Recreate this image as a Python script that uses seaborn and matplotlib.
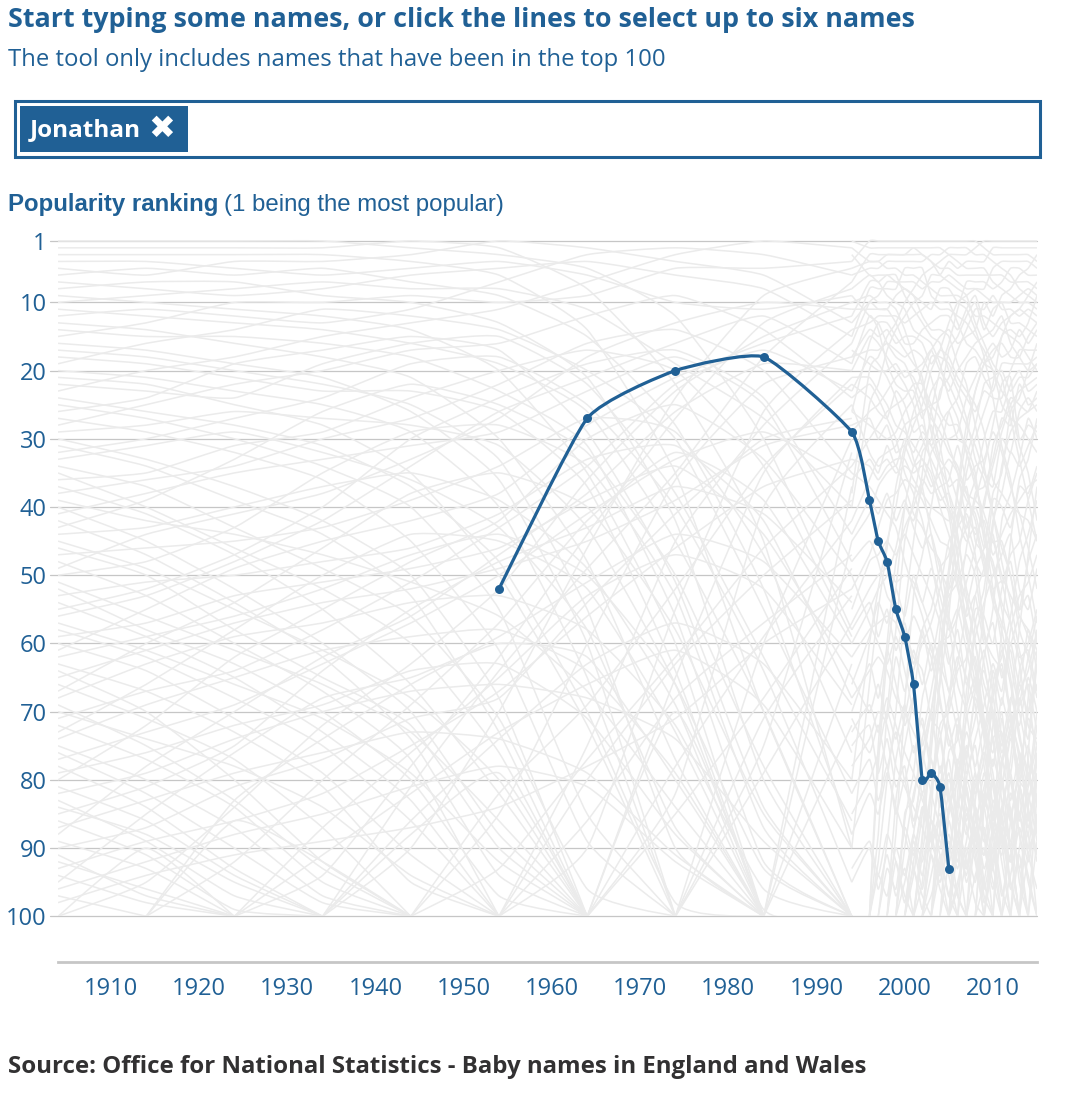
import numpy as np
import pandas as pd
import seaborn as sns
import matplotlib.pyplot as plt
from matplotlib.path import Path
from matplotlib.patches import PathPatch, Rectangle

N = np.nan

# years in the data: every ten years up to 1994, then yearly
decade_years = [1904, 1914, 1924, 1934, 1944, 1954, 1964, 1974, 1984, 1994]
recent_years = [1994, 1996, 1997, 1998, 1999, 2000, 2001, 2002, 2003, 2004,
                2005, 2006, 2007, 2008, 2009, 2010, 2011, 2012, 2013, 2014, 2015]

# the selected name
jonathan_years = [1954, 1964, 1974, 1984, 1994, 1996, 1997, 1998, 1999, 2000,
                  2001, 2002, 2003, 2004, 2005]
jonathan_ranks = [52, 27, 20, 18, 29, 39, 45, 48, 55, 59, 66, 80, 79, 81, 93]

# background names, ranks by decade (estimated)
early_ranks = [
    [1, 1, 1, 1, 2, 3, 5, 12, 30, 58],
    [2, 2, 2, 2, 1, 2, 8, 22, 45, 90],
    [3, 3, 3, 3, 4, 6, 14, 35, 70, 100],
    [4, 4, 5, 6, 5, 4, 6, 10, 11, 9],
    [5, 6, 4, 4, 3, 1, 2, 4, 6, 13],
    [6, 5, 6, 5, 7, 9, 15, 28, 52, 88],
    [7, 8, 9, 8, 6, 5, 4, 6, 8, 15],
    [8, 7, 7, 9, 10, 13, 21, 42, 80, 100],
    [9, 10, 11, 12, 14, 20, 35, 60, 100, N],
    [10, 9, 8, 7, 8, 8, 11, 19, 27, 40],
    [11, 12, 13, 14, 16, 19, 26, 45, 70, 100],
    [12, 11, 12, 13, 11, 7, 3, 2, 3, 6],
    [13, 14, 16, 18, 21, 30, 48, 77, 100, N],
    [14, 15, 15, 16, 18, 23, 31, 56, 92, 100],
    [15, 13, 10, 10, 9, 10, 9, 5, 5, 4],
    [16, 17, 19, 21, 26, 36, 60, 100, N, N],
    [17, 18, 20, 22, 25, 33, 55, 90, 100, N],
    [18, 19, 21, 23, 23, 26, 37, 64, 100, N],
    [19, 16, 14, 11, 12, 14, 20, 30, 55, 82],
    [20, 21, 23, 25, 29, 40, 65, 100, N, N],
    [21, 22, 25, 28, 35, 50, 72, 100, N, N],
    [22, 23, 24, 19, 16, 15, 22, 38, 62, 86],
    [23, 20, 18, 15, 13, 11, 7, 3, 1, 2],
    [24, 26, 28, 31, 37, 48, 70, 98, 100, N],
    [25, 27, 30, 34, 40, 55, 85, 100, N, N],
    [26, 24, 19, 17, 15, 17, 29, 51, 84, 100],
    [27, 29, 32, 36, 45, 61, 89, 100, N, N],
    [28, 25, 22, 20, 17, 16, 12, 9, 14, 24],
    [29, 28, 26, 27, 28, 31, 43, 66, 100, N],
    [30, 33, 37, 42, 50, 68, 100, N, N, N],
    [31, 34, 39, 44, 53, 73, 100, N, N, N],
    [32, 30, 27, 24, 19, 18, 25, 40, 64, 95],
    [33, 31, 29, 32, 36, 43, 58, 87, 100, N],
    [34, 37, 43, 49, 56, 71, 96, 100, N, N],
    [35, 40, 46, 52, 60, 76, 100, N, N, N],
    [36, 35, 31, 29, 24, 20, 17, 20, 34, 59],
    [37, 41, 47, 55, 66, 82, 100, N, N, N],
    [38, 36, 34, 30, 27, 22, 16, 14, 20, 35],
    [39, 42, 44, 47, 51, 56, 67, 84, 100, N],
    [40, 45, 52, 60, 70, 88, 100, N, N, N],
    [41, 38, 35, 33, 31, 29, 23, 18, 25, 48],
    [42, 47, 54, 62, 74, 94, 100, N, N, N],
    [43, 39, 33, 26, 22, 25, 32, 50, 78, 100],
    [44, 43, 40, 37, 35, 39, 49, 69, 99, 100],
    [45, 49, 55, 61, 68, 80, 100, N, N, N],
    [46, 50, 58, 65, 72, 90, 100, N, N, N],
    [47, 46, 45, 43, 39, 34, 27, 29, 47, 76],
    [48, 53, 60, 67, 77, 100, N, N, N, N],
    [49, 44, 41, 38, 33, 27, 18, 13, 10, 11],
    [50, 48, 43, 35, 29, 28, 34, 53, 87, 100],
    [51, 56, 61, 66, 73, 86, 100, N, N, N],
    [52, 58, 63, 70, 80, 97, 100, N, N, N],
    [53, 51, 50, 48, 46, 41, 33, 31, 42, 68],
    [54, 59, 65, 73, 83, 100, N, N, N, N],
    [55, 52, 47, 40, 30, 24, 19, 17, 24, 44],
    [56, 53, 48, 42, 34, 26, 21, 16, 12, 19],
    [57, 61, 66, 71, 79, 92, 100, N, N, N],
    [58, 62, 68, 75, 86, 100, N, N, N, N],
    [59, 57, 53, 51, 49, 46, 39, 34, 44, 65],
    [60, 64, 71, 79, 91, 100, N, N, N, N],
    [61, 55, 49, 45, 42, 38, 28, 21, 16, 12],
    [62, 59, 56, 52, 47, 44, 50, 66, 93, 100],
    [63, 67, 73, 81, 95, 100, N, N, N, N],
    [64, 70, 80, 92, 100, N, N, N, N, N],
    [65, 61, 57, 54, 52, 49, 45, 39, 31, 28],
    [66, 71, 77, 87, 100, N, N, N, N, N],
    [67, 60, 54, 46, 38, 35, 40, 58, 85, 100],
    [68, 63, 59, 57, 54, 53, 58, 72, 96, 100],
    [69, 75, 83, 93, 100, N, N, N, N, N],
    [70, 74, 78, 84, 94, 100, N, N, N, N],
    [71, 67, 64, 58, 51, 43, 34, 22, 17, 23],
    [72, 77, 84, 95, 100, N, N, N, N, N],
    [73, 66, 58, 50, 44, 45, 52, 73, 100, N],
    [74, 69, 65, 61, 59, 58, 64, 79, 100, N],
    [75, 80, 87, 97, 100, N, N, N, N, N],
    [76, 82, 90, 98, 100, N, N, N, N, N],
    [77, 73, 69, 63, 57, 50, 41, 33, 29, 36],
    [78, 84, 93, 100, N, N, N, N, N, N],
    [79, 76, 72, 69, 64, 63, 71, 88, 100, N],
    [80, 72, 62, 55, 48, 42, 30, 25, 33, 50],
    [81, 86, 94, 100, N, N, N, N, N, N],
    [82, 79, 74, 70, 67, 66, 68, 74, 89, 100],
    [83, 89, 97, 100, N, N, N, N, N, N],
    [84, 88, 95, 100, N, N, N, N, N, N],
    [85, 81, 75, 64, 55, 48, 43, 37, 41, 54],
    [86, 91, 99, 100, N, N, N, N, N, N],
    [87, 83, 79, 76, 73, 74, 79, 91, 100, N],
    [88, 78, 70, 62, 56, 47, 38, 26, 19, 20],
    [89, 93, 100, N, N, N, N, N, N, N],
    [90, 87, 81, 77, 71, 68, 54, 41, 30, 27],
    [91, 97, 100, N, N, N, N, N, N, N],
    [92, 96, 100, N, N, N, N, N, N, N],
    [93, 89, 86, 82, 75, 67, 56, 46, 37, 33],
    [94, 98, 100, N, N, N, N, N, N, N],
    [95, 85, 76, 68, 65, 60, 62, 80, 100, N],
    [96, 92, 88, 85, 81, 78, 81, 92, 100, N],
    [97, 100, N, N, N, N, N, N, N, N],
    [98, 94, 91, 89, 87, 84, 78, 71, 60, 52],
    [100, 95, 84, 72, 63, 52, 36, 23, 15, 10],
    [100, 90, 100, N, N, N, N, N, N, N],
    [N, 100, 92, 80, 69, 57, 42, 32, 39, 60],
    [N, 100, 83, 74, 66, 59, 51, 44, 48, 62],
    [N, 100, 86, 92, 100, N, N, N, N, N],
    [N, N, 100, 94, 78, 62, 44, 27, 13, 8],
    [N, N, 100, 87, 76, 65, 53, 47, 52, 69],
    [N, N, 100, 91, 82, 73, 66, 61, 69, 90],
    [N, N, N, 100, 90, 70, 46, 24, 9, 5],
    [N, N, N, 100, 81, 64, 49, 35, 18, 7],
    [N, N, N, 100, 86, 74, 63, 57, 63, 80],
    [N, N, N, 100, 88, 79, 100, N, N, N],
    [N, N, N, N, 100, 85, 60, 36, 22, 18],
    [N, N, N, N, 100, 82, 69, 52, 34, 22],
    [N, N, N, N, 100, 93, 77, 62, 46, 34],
    [N, N, N, N, N, 100, 75, 45, 28, 16],
    [N, N, N, N, N, 100, 90, 55, 26, 14],
    [N, N, N, N, N, 100, 80, 63, 50, 39],
    [N, N, N, N, N, 100, 86, 68, 57, 47],
    [N, N, N, N, N, N, 100, 65, 35, 21],
    [N, N, N, N, N, N, 100, 82, 40, 25],
    [N, N, N, N, N, N, 100, 78, 59, 42],
    [N, N, N, N, N, N, 100, 85, 68, 49],
    [N, N, N, N, N, N, 100, 70, 100, N],
    [N, N, N, N, N, N, N, 100, 60, 30],
    [N, N, N, N, N, N, N, 100, 75, 32],
    [N, N, N, N, N, N, N, 100, 71, 53],
    [N, N, N, N, N, N, N, 100, 79, 57],
    [N, N, N, N, N, N, N, N, 100, 37],
    [N, N, N, N, N, N, N, N, 100, 45],
    [N, N, N, N, N, N, N, N, 100, 63],
    [N, N, N, N, N, N, N, N, 100, 72],
]

# background names, yearly ranks from 1994 (estimated)
recent_ranks = [
    [4, 1, 1, 1, 1, 1, 1, 1, 1, 1, 1, 1, 1, 1, 2, 3, 3, 3, 3, 3, 4],
    [38, 20, 18, 15, 13, 10, 8, 6, 5, 4, 3, 3, 3, 2, 1, 1, 1, 1, 1, 1, 1],
    [1, 2, 2, 2, 2, 2, 2, 2, 2, 2, 3, 4, 5, 5, 5, 7, 8, 9, 10, 10, 11],
    [7, 3, 3, 3, 3, 3, 3, 3, 4, 5, 5, 6, 6, 6, 6, 6, 6, 7, 7, 7, 8],
    [2, 4, 4, 5, 5, 6, 6, 7, 8, 9, 9, 9, 10, 12, 12, 13, 14, 15, 16, 18, 20],
    [6, 5, 5, 4, 4, 4, 4, 4, 3, 3, 2, 2, 2, 3, 3, 4, 5, 6, 8, 9, 10],
    [5, 4, 4, 3, 3, 3, 2, 3, 4, 6, 7, 8, 9, 13, 16, 19, 21, 27, 33, 39, 45],
    [8, 6, 7, 6, 7, 8, 9, 10, 11, 8, 8, 10, 11, 14, 18, 24, 31, 36, 44, 50, 57],
    [9, 12, 13, 16, 18, 19, 22, 26, 34, 38, 41, 51, 59, 64, 73, 79, 88, 95, 100, N, N],
    [13, 10, 11, 11, 13, 16, 16, 14, 13, 12, 12, 14, 11, 9, 13, 15, 13, 12, 11, 12, 13],
    [19, 12, 14, 19, 22, 23, 23, 27, 23, 21, 23, 20, 18, 16, 15, 14, 12, 16, 18, 20, 19],
    [16, 10, 9, 7, 7, 7, 7, 8, 7, 7, 6, 7, 8, 8, 9, 10, 10, 13, 13, 14, 15],
    [40, 25, 22, 17, 14, 12, 10, 9, 6, 6, 4, 5, 4, 4, 4, 2, 2, 2, 2, 2, 2],
    [80, 60, 52, 45, 40, 32, 28, 25, 20, 17, 13, 10, 9, 8, 8, 5, 4, 4, 4, 4, 5],
    [N, 100, 92, 80, 70, 55, 45, 35, 26, 20, 16, 11, 7, 7, 7, 8, 7, 5, 5, 6, 6],
    [10, 9, 10, 10, 11, 14, 18, 22, 26, 31, 38, 45, 52, 57, 63, 71, 80, 86, 93, 100, N],
    [14, 13, 12, 12, 12, 13, 12, 11, 10, 11, 11, 12, 13, 15, 17, 20, 23, 25, 31, 35, 42],
    [3, 6, 6, 6, 6, 9, 11, 13, 15, 16, 20, 23, 27, 33, 36, 41, 46, 50, 58, 62, 68],
    [20, 15, 16, 18, 20, 22, 25, 30, 33, 36, 40, 44, 53, 60, 66, 70, 80, 90, 100, N, N],
    [11, 11, 11, 11, 9, 8, 9, 12, 14, 14, 15, 19, 22, 28, 34, 41, 48, 54, 61, 67, 78],
    [15, 8, 8, 8, 8, 5, 5, 5, 9, 10, 10, 13, 16, 17, 19, 20, 25, 27, 28, 30, 32],
    [29, 26, 25, 23, 21, 20, 21, 24, 27, 29, 32, 34, 38, 42, 48, 53, 57, 60, 56, 59, 62],
    [N, 100, 88, 70, 58, 45, 39, 32, 30, 23, 21, 17, 14, 11, 11, 9, 11, 11, 12, 11, 12],
    [90, 66, 55, 46, 37, 31, 26, 23, 18, 18, 19, 22, 24, 26, 23, 24, 24, 20, 17, 17, 17],
    [60, 55, 52, 50, 46, 40, 42, 37, 32, 30, 30, 29, 24, 21, 18, 16, 18, 17, 14, 16, 14],
    [24, 22, 24, 27, 30, 35, 38, 42, 48, 55, 62, 70, 77, 84, 95, 100, N, N, N, N, N],
    [18, 14, 15, 14, 16, 15, 15, 16, 19, 17, 18, 21, 23, 25, 29, 36, 38, 40, 41, 46, 52],
    [26, 28, 29, 30, 29, 26, 24, 20, 17, 15, 14, 16, 15, 14, 10, 12, 9, 8, 6, 5, 3],
    [17, 19, 20, 20, 19, 21, 20, 19, 17, 20, 22, 25, 28, 31, 35, 37, 30, 32, 26, 24, 26],
    [N, N, N, N, N, N, 100, 95, 82, 74, 68, 63, 55, 49, 46, 38, 35, 26, 24, 20, 16],
    [N, N, N, N, N, 100, 88, 78, 70, 62, 50, 43, 35, 30, 26, 22, 15, 14, 15, 13, 9],
    [N, N, N, N, 100, 90, 82, 77, 70, 61, 54, 48, 40, 36, 30, 26, 26, 22, 20, 23, 22],
    [34, 30, 28, 26, 25, 24, 22, 22, 25, 27, 31, 35, 42, 47, 58, 65, 74, 80, 88, 95, 100],
    [12, 7, 7, 9, 10, 11, 14, 15, 16, 19, 24, 27, 32, 36, 43, 52, 60, 71, 80, 82, 89],
    [26, 16, 13, 13, 15, 17, 19, 21, 29, 34, 40, 47, 58, 66, 74, 84, 92, 100, N, N, N],
    [N, N, N, N, N, N, N, 100, 85, 65, 50, 37, 28, 23, 19, 18, 15, 12, 11, 9, 7],
    [42, 36, 33, 32, 31, 28, 27, 26, 25, 24, 17, 15, 12, 10, 14, 11, 10, 10, 9, 8, 9],
    [N, 100, 78, 62, 52, 40, 34, 31, 28, 33, 35, 39, 43, 40, 44, 49, 55, 63, 70, 77, 88],
    [21, 21, 23, 25, 28, 29, 31, 33, 35, 40, 44, 49, 54, 60, 68, 74, 83, 90, 100, N, N],
    [N, N, N, N, N, 100, 94, 85, 76, 58, 49, 38, 30, 23, 19, 17, 16, 18, 18, 15, 13],
    [N, N, N, N, N, N, 100, 89, 75, 66, 56, 42, 33, 28, 22, 21, 20, 23, 21, 21, 19],
    [N, N, N, N, N, N, N, N, 100, 82, 69, 55, 46, 38, 37, 33, 27, 28, 22, 25, 24],
    [N, N, N, N, 100, 85, 83, 74, 67, 60, 59, 56, 51, 46, 39, 34, 29, 25, 23, 22, 21],
    [N, 100, 75, 60, 48, 43, 40, 36, 38, 37, 36, 31, 36, 34, 33, 29, 32, 37, 41, 42, 45],
    [23, 18, 19, 21, 24, 28, 33, 37, 44, 51, 57, 66, 70, 79, 88, 100, N, N, N, N, N],
    [18, 17, 17, 16, 17, 18, 17, 18, 21, 26, 28, 28, 32, 37, 41, 45, 45, 50, 56, 58, 61],
    [N, N, N, 100, 83, 75, 68, 58, 55, 49, 47, 41, 37, 45, 47, 54, 58, 65, 73, 80, 75],
    [N, N, N, N, N, N, N, N, N, N, 100, 85, 70, 57, 52, 42, 38, 32, 34, 31, 28],
    [N, N, N, N, N, N, N, N, N, 100, 92, 79, 76, 71, 62, 55, 42, 38, 33, 27, 30],
    [N, N, N, N, N, N, N, N, N, N, N, N, N, 100, 83, 72, 58, 45, 36, 33, 27],
    [25, 32, 34, 33, 35, 34, 35, 34, 37, 35, 33, 35, 38, 39, 40, 31, 28, 24, 25, 26, 23],
    [22, 24, 26, 27, 23, 25, 29, 28, 31, 28, 26, 30, 31, 35, 45, 48, 54, 57, 63, 72, 74],
    [35, 37, 39, 41, 43, 48, 52, 56, 61, 64, 72, 78, 84, 91, 100, N, N, N, N, N, N],
    [48, 45, 48, 53, 55, 58, 62, 64, 71, 73, 82, 90, 100, N, N, N, N, N, N, N, N],
    [N, N, N, 100, 88, 69, 53, 47, 40, 32, 26, 24, 19, 18, 21, 23, 19, 19, 19, 19, 18],
    [N, N, N, N, N, N, 100, 88, 73, 61, 52, 46, 43, 39, 34, 28, 22, 21, 30, 28, 29],
    [33, 34, 36, 34, 33, 33, 36, 38, 40, 41, 42, 40, 44, 48, 50, 39, 40, 43, 37, 38, 34],
    [N, N, N, N, N, N, N, N, N, N, 100, 90, 77, 67, 55, 43, 34, 29, 27, 26, 25],
    [N, N, N, N, N, N, N, N, N, N, 100, 82, 67, 59, 54, 50, 47, 44, 52, 55, 49],
    [55, 48, 47, 45, 47, 44, 47, 50, 53, 57, 63, 58, 66, 62, 71, 78, 70, 85, 93, 88, 100],
    [70, 63, 68, 61, 66, 72, 68, 75, 70, 79, 72, 80, 86, 79, 88, 95, 100, N, N, N, N],
    [N, N, N, N, N, N, N, 100, 90, 86, 80, 84, 75, 82, 77, 70, 75, 68, 72, 65, 70],
    [N, N, 100, 93, 96, 87, 91, 84, 88, 80, 85, 77, 82, 88, 91, 85, 80, 86, 78, 83, 76],
    [75, 72, 79, 74, 81, 78, 86, 80, 89, 93, 100, N, N, N, N, N, N, N, N, N, N],
    [N, N, N, N, N, N, N, N, N, N, N, N, 100, 94, 90, 96, 88, 92, 85, 90, 80],
    [65, 70, 66, 71, 62, 67, 61, 66, 60, 68, 75, 71, 79, 75, 84, 80, 90, 84, 95, 100, N],
    [N, N, N, N, 100, 95, 89, 94, 86, 90, 82, 88, 93, 87, 96, 90, 100, N, N, N, N],
    [N, N, N, N, N, N, N, N, N, N, N, N, N, N, N, N, 100, 86, 79, 70, 66],
    [N, N, N, N, N, N, N, N, N, N, N, N, N, N, 100, 90, 85, 77, 64, 60, 55],
    [50, 57, 60, 63, 59, 64, 70, 72, 77, 81, 77, 86, 92, 98, 100, N, N, N, N, N, N],
    [N, N, N, N, N, N, N, N, 100, 93, 84, 80, 73, 78, 72, 76, 68, 73, 66, 70, 63],
    [85, 80, 76, 70, 74, 69, 76, 71, 79, 74, 83, 88, 80, 85, 93, 88, 97, 91, 100, N, N],
    [N, N, N, N, N, N, N, N, N, N, N, N, N, N, N, 100, 78, 69, 58, 47, 37],
    [N, N, N, N, N, N, N, N, N, N, N, N, N, N, N, N, N, 100, 82, 68, 58],
    [N, N, N, N, N, N, N, N, N, N, N, N, N, N, N, N, N, N, 100, 76, 63],
    [N, N, N, N, N, N, N, N, N, N, N, N, N, 100, 84, 66, 62, 56, 48, 44, 39],
    [N, N, N, N, N, N, N, N, N, N, N, 100, 80, 74, 69, 63, 67, 58, 53, 51, 47],
    [N, N, N, N, N, N, N, N, 100, 87, 76, 74, 63, 55, 56, 60, 52, 47, 45, 39, 35],
    [N, N, N, N, N, N, 100, 91, 81, 72, 70, 64, 62, 53, 49, 45, 50, 53, 55, 48, 44],
    [N, N, N, N, 100, 86, 79, 68, 63, 56, 53, 51, 47, 50, 59, 62, 64, 70, 77, 85, 92],
    [N, N, 100, 89, 77, 71, 64, 60, 57, 52, 45, 43, 41, 44, 42, 47, 44, 41, 39, 37, 36],
    [52, 47, 43, 39, 38, 36, 37, 39, 42, 45, 46, 52, 57, 63, 72, 81, 89, 100, N, N, N],
    [45, 41, 37, 35, 34, 37, 41, 43, 46, 48, 56, 61, 65, 69, 78, 87, 96, 100, N, N, N],
    [57, 52, 50, 49, 51, 50, 51, 54, 58, 63, 67, 73, 81, 88, 97, 100, N, N, N, N, N],
    [62, 58, 57, 56, 57, 60, 56, 59, 62, 69, 74, 79, 87, 92, 100, N, N, N, N, N, N],
    [68, 64, 62, 64, 68, 70, 73, 76, 82, 87, 94, 100, N, N, N, N, N, N, N, N, N],
    [73, 69, 73, 68, 72, 76, 79, 83, 86, 91, 97, 100, N, N, N, N, N, N, N, N, N],
    [78, 74, 70, 72, 78, 81, 84, 87, 91, 96, 100, N, N, N, N, N, N, N, N, N, N],
    [88, 82, 85, 79, 84, 88, 93, 97, 100, N, N, N, N, N, N, N, N, N, N, N, N],
    [93, 89, 94, 88, 92, 97, 100, N, N, N, N, N, N, N, N, N, N, N, N, N, N],
    [N, N, N, N, N, N, N, N, N, N, N, 100, 91, 86, 81, 74, 73, 80, 85, 91, 96],
    [N, N, N, N, N, N, N, N, N, N, N, N, N, N, 100, 92, 84, 79, 88, 94, 100],
    [N, N, N, N, N, N, N, N, N, N, N, N, N, N, N, N, 100, 94, 87, 92, 85],
    [N, N, N, N, N, N, N, N, N, N, N, N, N, N, N, N, N, N, N, 100, 82],
    [N, N, N, N, N, N, N, N, N, N, N, N, N, N, N, N, N, N, 100, 91, 87],
    [N, N, N, N, N, 100, 93, 99, 91, 95, 89, 97, 100, N, N, N, N, N, N, N, N],
    [N, N, N, N, N, N, N, N, N, N, 100, 95, 89, 81, 75, 68, 61, 66, 74, 79, 86],
    [N, N, N, N, N, N, N, N, N, N, N, N, 100, 88, 79, 85, 77, 83, 76, 81, 72],
    [N, N, N, N, N, N, N, 100, 97, 92, 88, 93, 85, 90, 83, 87, 78, 72, 67, 64, 58],
    [58, 54, 59, 55, 61, 57, 63, 58, 64, 60, 67, 62, 69, 65, 73, 68, 76, 71, 80, 75, 83],
    [N, N, N, N, N, N, N, N, N, N, N, N, 100, 83, 76, 86, 71, 79, 68, 74, 61],
    [N, N, N, N, N, N, N, N, N, N, N, N, N, N, N, 100, 86, 92, 81, 88, 77],
    [66, 59, 54, 57, 52, 56, 50, 54, 49, 53, 58, 55, 61, 67, 64, 70, 77, 73, 82, 90, 86],
    [N, N, N, N, N, N, N, N, 100, 91, 97, 89, 94, 86, 91, 83, 88, 80, 85, 79, 84],
    [44, 39, 41, 38, 42, 39, 43, 46, 44, 49, 52, 50, 56, 53, 60, 57, 65, 61, 69, 66, 73],
    [N, N, N, N, N, 100, 92, 84, 89, 78, 83, 72, 77, 68, 73, 64, 69, 60, 66, 58, 64],
    [N, N, N, N, N, N, N, N, N, N, N, N, N, N, 100, 88, 81, 73, 69, 62, 56],
    [82, 77, 83, 78, 85, 80, 87, 82, 89, 85, 92, 88, 95, 90, 98, 93, 100, N, N, N, N],
    [N, N, N, N, N, N, N, N, N, N, 100, 96, 90, 95, 87, 93, 84, 90, 81, 87, 79],
    [36, 33, 35, 31, 34, 30, 32, 29, 31, 34, 37, 36, 39, 41, 46, 44, 51, 48, 55, 53, 60],
    [N, N, N, 100, 92, 98, 90, 96, 88, 94, 86, 92, 84, 90, 82, 88, 85, 95, 100, N, N],
    [N, N, N, N, N, N, N, N, N, N, N, N, N, 100, 95, 87, 91, 82, 86, 78, 81],
    [71, 76, 72, 78, 73, 80, 75, 82, 77, 84, 79, 86, 81, 89, 84, 92, 87, 96, 91, 100, N],
    [N, N, N, N, N, N, N, N, N, N, N, N, N, N, N, N, N, 100, 90, 81, 70],
    [28, 27, 30, 28, 32, 31, 34, 33, 36, 39, 38, 42, 45, 43, 49, 52, 51, 57, 62, 61, 67],
    [N, N, N, N, N, N, N, 100, 94, 88, 91, 83, 88, 80, 84, 77, 81, 74, 78, 71, 75],
    [95, 90, 96, 91, 97, 93, 100, N, N, N, N, N, N, N, N, N, N, N, N, N, N],
    [N, 100, 94, 97, 90, 94, 88, 92, 86, 89, 93, 97, 100, N, N, N, N, N, N, N, N],
    [N, N, N, N, N, N, N, N, N, N, N, N, N, N, N, N, N, N, N, 100, 89],
    [N, N, N, N, N, N, N, N, N, N, N, N, N, N, N, N, N, N, 100, 84, 77],
    [N, N, N, N, N, N, N, N, N, N, 100, 88, 93, 84, 89, 80, 86, 89, 81, 86, 80],
    [N, N, N, N, N, N, N, N, N, 100, 85, 78, 71, 66, 61, 67, 63, 71, 76, 84, 91],
]

y_ticks = [1, 10, 20, 30, 40, 50, 60, 70, 80, 90, 100]
x_ticks = [1910, 1920, 1930, 1940, 1950, 1960, 1970, 1980, 1990, 2000, 2010]

blue = '#206095'
grey_line = '#ebebeb'

sns.set_style('white')
plt.rcParams['font.family'] = ['Open Sans', 'DejaVu Sans']

TENSION = 0.5


def smooth_path(xs, ys):
    # cardinal curve through the points, written as bezier segments
    k = (1 - TENSION) / 6
    n = len(xs)
    verts = [(xs[0], ys[0])]
    codes = [Path.MOVETO]
    for i in range(n - 1):
        a = max(i - 1, 0)
        d = min(i + 2, n - 1)
        c1 = (xs[i] + k * (xs[i + 1] - xs[a]), ys[i] + k * (ys[i + 1] - ys[a]))
        c2 = (xs[i + 1] - k * (xs[d] - xs[i]), ys[i + 1] - k * (ys[d] - ys[i]))
        verts += [c1, c2, (xs[i + 1], ys[i + 1])]
        codes += [Path.CURVE4] * 3
    return Path(verts, codes)


def draw_series(ax, years, ranks, clip, **kw):
    s = pd.Series(ranks, index=years, dtype=float)
    groups = s.isna().cumsum()
    for _, part in s.dropna().groupby(groups[s.notna()]):
        if len(part) < 2:
            continue
        patch = PathPatch(smooth_path(list(part.index), list(part.values)),
                          fill=False, **kw)
        ax.add_patch(patch)
        patch.set_clip_path(clip)


fig = plt.figure(figsize=(10.89, 11.04), dpi=100)
ax = fig.add_axes([58 / 1089, 1 - 962 / 1104, 979 / 1089, 721 / 1104])
ax.set_xlim(1904, 2015)
ax.set_ylim(106.7, 1)

clip = Rectangle((1904, 0.6), 111, 99.4, transform=ax.transData)

for row in early_ranks:
    draw_series(ax, decade_years, row, clip, edgecolor=grey_line, lw=1.1, zorder=2)
for row in recent_ranks:
    draw_series(ax, recent_years, row, clip, edgecolor=grey_line, lw=1.1, zorder=2)

# gridlines on the rank ticks
for t in y_ticks:
    ax.plot([1903.1, 2015], [t, t], color='#c6c6c6', lw=0.9, zorder=1,
            clip_on=False)

# selected name
jon = pd.DataFrame({'year': jonathan_years, 'rank': jonathan_ranks})
draw_series(ax, jonathan_years, jonathan_ranks, clip, edgecolor=blue, lw=2.3,
            zorder=4, capstyle='round', joinstyle='round')
sns.scatterplot(data=jon, x='year', y='rank', color=blue, s=42,
                edgecolor=blue, linewidth=0, zorder=5, ax=ax, clip_on=False)

ax.set_xlabel('')
ax.set_ylabel('')
ax.set_yticks(y_ticks)
ax.set_yticklabels([str(t) for t in y_ticks])
ax.set_xticks([1904] + x_ticks + [2015])
ax.set_xticklabels([''] + [str(t) for t in x_ticks] + [''])
ax.tick_params(axis='y', length=0, pad=8, labelsize=17, labelcolor=blue)
ax.tick_params(axis='x', length=5.8, width=1, color='#c6c6c6', pad=5,
               labelsize=17, labelcolor=blue)
for side in ['left', 'right', 'top']:
    ax.spines[side].set_visible(False)
ax.spines['bottom'].set_color('#c6c6c6')
ax.spines['bottom'].set_linewidth(2)

# header texts and the selection box
fig.text(8 / 1089, 1 - 20 / 1104, 'Start typing some names, or click the lines to select up to six names',
         fontsize=19.4, fontweight='bold', color=blue, va='center')
fig.text(8 / 1089, 1 - 60 / 1104, 'The tool only includes names that have been in the top 100',
         fontsize=17.2, color=blue, va='center')
fig.patches.append(Rectangle((15 / 1089, 1 - 157 / 1104), 1025 / 1089, 56 / 1104,
                             transform=fig.transFigure, fill=False,
                             edgecolor=blue, lw=2.2))
fig.patches.append(Rectangle((20 / 1089, 1 - 152 / 1104), 168 / 1089, 46 / 1104,
                             transform=fig.transFigure, facecolor=blue,
                             edgecolor='none'))
fig.text(30 / 1089, 1 - 130 / 1104, 'Jonathan', fontsize=17.5, fontweight='bold',
         color='white', va='center')
fig.text(162 / 1089, 1 - 129 / 1104, '✖', fontsize=23, color='white',
         va='center', ha='center', family='DejaVu Sans')

t1 = fig.text(8 / 1089, 1 - 205 / 1104, 'Popularity ranking', fontsize=17.3,
              fontweight='bold', color=blue, va='center', family='Liberation Sans')
fig.canvas.draw()
bb = t1.get_window_extent()
fig.text((bb.x1 + 6) / 1089, 1 - 205 / 1104, '(1 being the most popular)',
         fontsize=17.3, color=blue, va='center', family='Liberation Sans')

fig.text(8 / 1089, 1 - 1067 / 1104,
         'Source: Office for National Statistics - Baby names in England and Wales',
         fontsize=17.3, fontweight='bold', color='#323132', va='center')

fig.savefig('out.png', dpi=100)
